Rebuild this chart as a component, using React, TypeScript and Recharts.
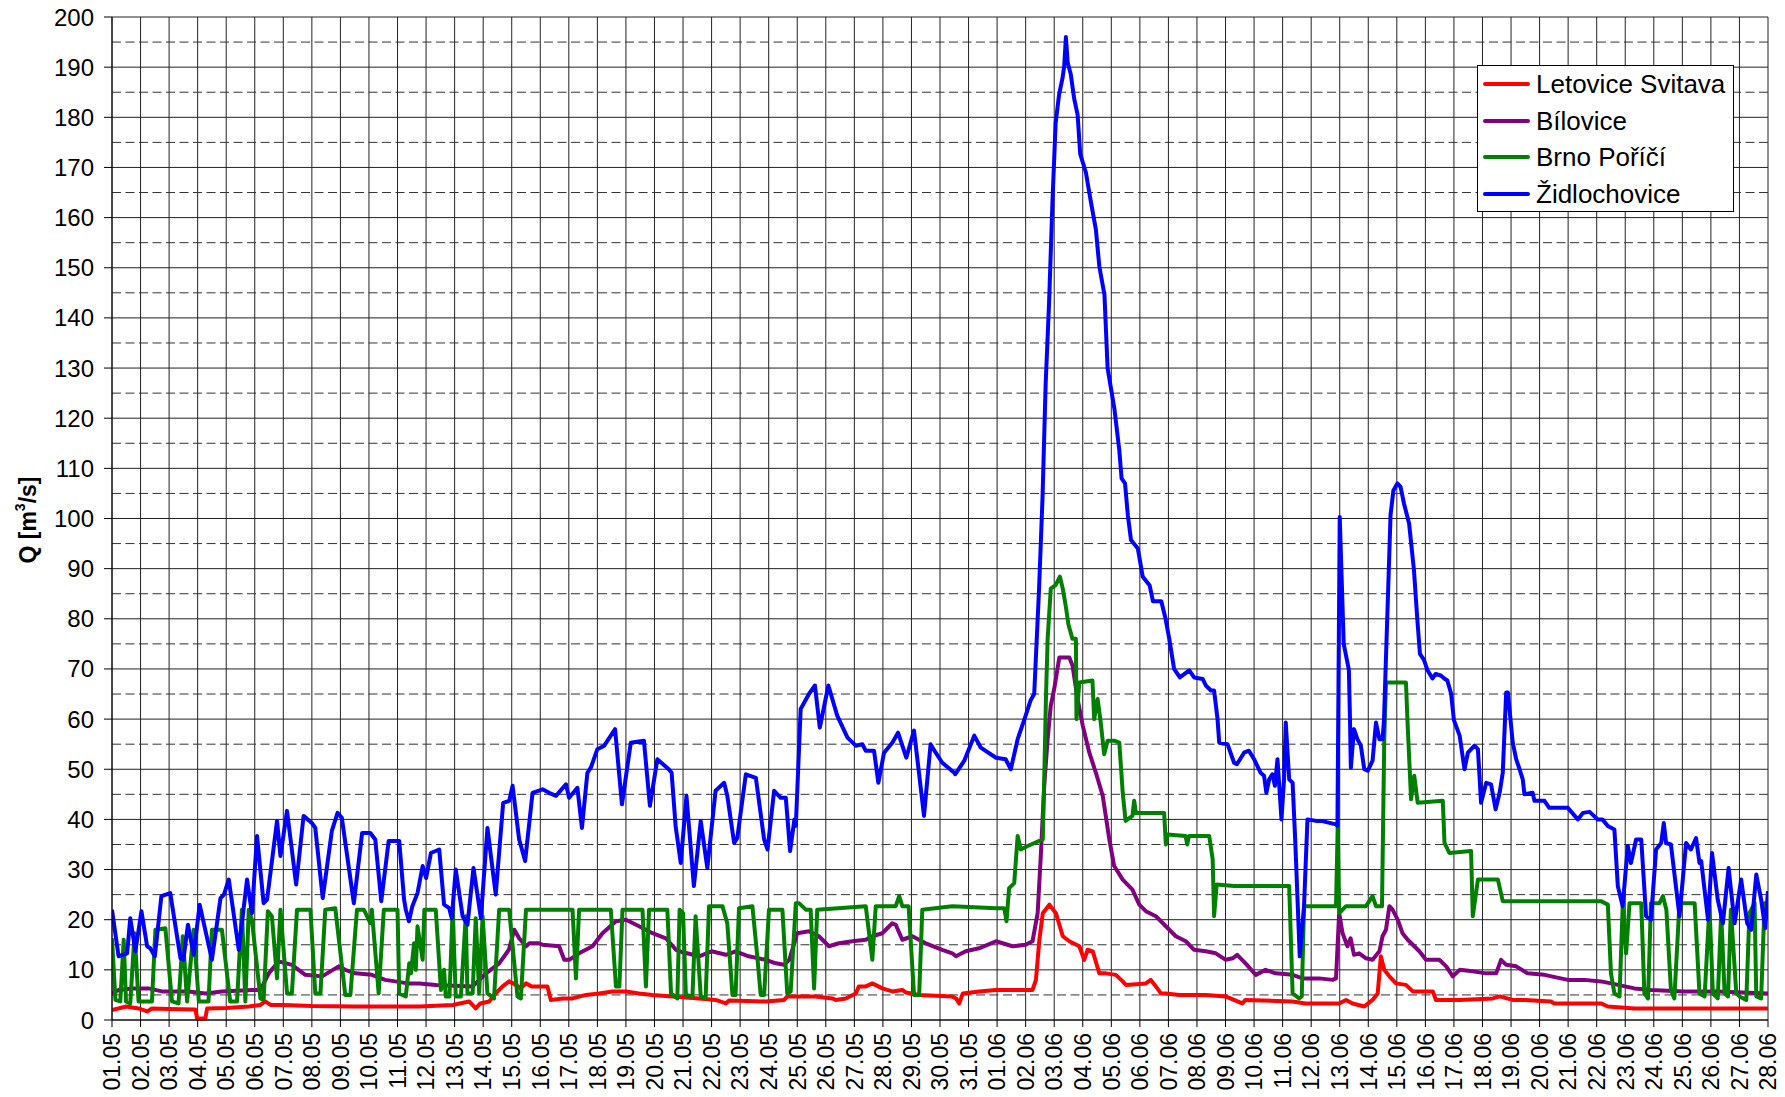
import React from "react";
import { LineChart, Line, XAxis, YAxis, CartesianGrid, Legend } from "recharts";

// Day labels (x = day index since 01.05)
const DATES = [
  "01.05","02.05","03.05","04.05","05.05","06.05","07.05","08.05","09.05","10.05",
  "11.05","12.05","13.05","14.05","15.05","16.05","17.05","18.05","19.05","20.05",
  "21.05","22.05","23.05","24.05","25.05","26.05","27.05","28.05","29.05","30.05","31.05",
  "01.06","02.06","03.06","04.06","05.06","06.06","07.06","08.06","09.06","10.06",
  "11.06","12.06","13.06","14.06","15.06","16.06","17.06","18.06","19.06","20.06",
  "21.06","22.06","23.06","24.06","25.06","26.06","27.06","28.06"
];
const DAY_TICKS = [0,1,2,3,4,5,6,7,8,9,10,11,12,13,14,15,16,17,18,19,20,21,22,23,24,25,26,27,28,29,30,31,32,33,34,35,36,37,38,39,40,41,42,43,44,45,46,47,48,49,50,51,52,53,54,55,56,57,58];
const Y_TICKS = [0,10,20,30,40,50,60,70,80,90,100,110,120,130,140,150,160,170,180,190,200];
const Y_MINOR = [5,15,25,35,45,55,65,75,85,95,105,115,125,135,145,155,165,175,185,195];

// [day, Q]
const letovice: number[][] = [
  [0,2],[0.5,2.7],[0.93,2.3],[1.23,1.7],[1.4,2.3],[2.0,2.2],[2.92,2.1],[2.98,0.3],[3.27,0.3],[3.33,2.3],[4.0,2.4],[4.79,2.7],[5.2,3],[5.37,3.7],[5.55,3],[6.0,3],[7.0,2.8],[8.5,2.7],[9.92,2.7],[10.76,2.7],[11.93,3],[12.51,3.7],[12.74,2.3],[12.9,3.3],[13.21,3.7],[13.44,5.3],[13.68,6.7],[13.91,7.7],[14.15,7],[14.3,6.3],[14.5,7.3],[14.7,6.7],[15.25,6.7],[15.37,4],[15.78,4.3],[16.13,4.3],[16.6,5],[17.06,5.3],[17.53,5.7],[18.0,5.7],[18.46,5.3],[18.93,5],[19.63,4.7],[20.56,4.3],[21.14,4],[21.5,3.3],[21.61,3.9],[22.9,3.7],[23.54,4],[23.65,4.7],[24.65,4.7],[25.23,4.3],[25.35,4],[25.7,4.3],[26.05,5.3],[26.16,6.7],[26.4,6.7],[26.63,7.3],[26.98,6.3],[27.33,5.7],[27.68,6],[27.8,5.5],[28.27,5],[29.43,4.7],[29.56,4.3],[29.67,3.3],[29.8,5.3],[30.37,5.7],[30.96,6],[31.54,6],[32.24,6],[32.36,8],[32.48,16],[32.6,21.3],[32.83,23],[33.06,21.3],[33.3,16.7],[33.53,15.7],[33.88,14.7],[34.05,12],[34.17,14],[34.35,13.7],[34.58,9.3],[34.81,9.3],[35.16,9],[35.4,7.7],[35.51,7],[36.21,7.3],[36.38,8],[36.56,6.7],[36.74,5.3],[36.91,5.3],[37.38,5],[38.31,5],[39.0,4.7],[39.59,3.3],[39.7,4],[41.35,3.7],[41.81,3.3],[42.98,3.3],[43.22,4],[43.45,3.3],[43.86,2.7],[44.15,4],[44.33,5.3],[44.44,12.7],[44.56,10],[44.74,8.7],[44.97,7.3],[45.32,7],[45.56,5.7],[46.26,5.7],[46.37,4],[47.2,4],[48.36,4.3],[48.6,4.7],[49.06,4],[49.5,4],[50.4,3.7],[50.5,3.3],[52.15,3.3],[52.39,2.7],[53.32,2.3],[58,2.3]
];

const bilovice: number[][] = [
  [0,5.3],[0.23,6],[0.7,6.3],[1.28,6.3],[1.75,5.7],[2.69,5.7],[3.27,5.3],[3.85,5.7],[4.9,6],[5.2,6],[5.49,9.3],[5.84,11.7],[6.3,11],[6.77,9],[7.36,8.7],[7.94,10.7],[8.17,10],[8.52,9.3],[9.1,9],[9.57,8],[9.92,7.7],[10.35,7.3],[10.76,7.3],[11.34,7],[12.63,6.7],[13.1,9.3],[13.56,11.3],[13.9,14],[14.09,18],[14.26,16.3],[14.5,14.7],[14.62,15.3],[14.96,15.3],[15.08,15],[15.66,14.7],[15.84,12],[16.01,12],[16.36,13.3],[16.83,14.7],[17.18,17.3],[17.65,19.7],[18.0,20],[18.46,18.7],[18.93,17.3],[19.4,16.3],[19.75,14],[20.0,13.5],[20.56,12.7],[21.0,13.7],[21.5,13],[21.84,13.7],[22.3,12.7],[22.9,12],[23.25,11.3],[23.54,11],[23.72,12],[24.0,17.3],[24.41,17.7],[24.76,16.7],[25.11,14.7],[25.46,15.3],[25.93,15.7],[26.4,16],[26.63,16.7],[26.98,17.3],[27.33,19.3],[27.45,19],[27.68,16],[28.03,16.7],[28.5,15.3],[29.08,14],[29.43,13.3],[29.56,12.7],[29.9,13.7],[30.37,14.3],[30.96,15.7],[31.54,14.7],[32.0,15],[32.24,15.7],[32.42,21.3],[32.53,32.7],[32.65,46.7],[32.77,56],[32.88,62.7],[33.0,66],[33.18,72.3],[33.53,72.3],[33.64,70.7],[33.82,64],[34.0,58.7],[34.23,53.3],[34.46,49.3],[34.7,44.7],[34.93,36],[35.1,30.7],[35.4,28],[35.74,26],[35.98,23],[36.21,21.7],[36.56,20.7],[36.91,18.7],[37.26,16.7],[37.61,15.7],[37.9,14],[38.31,13.7],[38.66,13.3],[39.01,12],[39.25,12.3],[39.41,13],[39.7,11.3],[40.06,9],[40.4,10],[40.75,9.3],[41.35,9],[41.7,8.3],[42.28,8.3],[42.75,8],[42.87,8.3],[42.98,21.3],[43.1,17.3],[43.27,14.7],[43.38,16.3],[43.5,13],[43.68,13.3],[43.92,12.3],[44.15,12],[44.39,13.7],[44.5,16.7],[44.62,18],[44.74,22.7],[44.85,22],[45.03,20],[45.2,17.3],[45.38,16],[45.61,14.7],[45.79,13.7],[46.02,12],[46.49,12],[46.73,10.7],[46.96,8.7],[47.2,10],[47.66,9.7],[48.13,9.3],[48.48,9.3],[48.65,12],[48.83,11],[49.18,10.7],[49.58,9.3],[50.17,9],[50.99,8],[51.57,8],[52.15,7.7],[52.5,7.3],[53.32,6.3],[53.9,6],[55.07,5.7],[56.24,5.7],[58,5.3]
];

const brnoPorici: number[][] = [
  [0,16.3],[0.12,4],[0.29,3.7],[0.41,16],[0.49,3.7],[0.64,3.3],[0.79,17.3],[0.93,3.7],[1.4,3.7],[1.52,18],[1.87,18.3],[2.1,3.7],[2.33,3.3],[2.48,16.7],[2.63,3.7],[2.86,18],[3.04,3.7],[3.38,3.7],[3.5,18],[3.85,18],[4.14,3.7],[4.38,3.7],[4.55,22],[4.67,3.7],[4.79,22],[4.9,20],[5.2,4.3],[5.31,4],[5.46,21.7],[5.6,20.7],[5.78,8.3],[5.9,22],[6.13,5.3],[6.3,5.3],[6.48,22],[6.95,22],[7.12,5.3],[7.3,5.3],[7.47,22],[7.82,22.3],[8.17,5],[8.35,5],[8.58,22],[8.82,22],[9.05,19.3],[9.1,22],[9.34,5.3],[9.52,22],[10.0,22],
  [10.06,5.3],[10.29,4.7],[10.41,11.3],[10.47,9.3],[10.58,15.3],[10.64,10],[10.7,18.7],[10.88,12],[10.94,22],[11.34,22],[11.52,6],[11.63,10],[11.69,4.7],[11.82,4.7],[11.93,22],[12.04,4.7],[12.22,4.7],[12.39,20.7],[12.45,5.3],[12.63,5.3],[12.74,20.3],[12.86,5.3],[12.98,20.7],[13.15,5.3],[13.38,4.3],[13.56,22],[13.91,22],[14.2,4.7],[14.32,4.3],[14.5,22],[16.13,22],[16.25,8.3],[16.36,22],[17.47,22],[17.65,6.7],[17.77,6.7],[17.88,22],[18.58,22],[18.7,6.7],[18.81,22],[19.45,22],
  [19.58,5.3],[19.8,4.3],[19.88,22],[20.0,21.3],[20.1,5],[20.33,4.7],[20.44,20.7],[20.62,4.7],[20.79,4.3],[20.91,22.7],[21.38,22.7],[21.55,19.3],[21.73,5],[21.84,5],[21.96,22.3],[22.43,22.7],[22.6,12.7],[22.72,5],[22.84,5],[23.01,22],[23.48,22],[23.65,5.3],[23.77,5.7],[23.95,23.3],[24.06,23.3],[24.3,22],[24.47,22],[24.59,6.3],[24.7,22],[26.4,22.7],[26.63,12],[26.75,22.7],[27.45,22.7],[27.57,24.7],[27.68,22.7],[27.9,22.7],[28.09,5],[28.27,5],[28.38,22],[29.43,22.7],
  [30.96,22.3],[31.25,22.3],[31.33,19.7],[31.42,26.3],[31.6,27.3],[31.72,36.7],[31.83,34],[32.07,34.7],[32.6,36],[32.65,48],[32.71,64],[32.77,76],[32.88,86],[33.05,86.7],[33.2,88.4],[33.3,86],[33.4,82.7],[33.5,78.8],[33.64,76],[33.76,76],[33.78,60],[33.88,67.3],[34.34,67.7],[34.4,60],[34.52,64],[34.63,59.3],[34.75,53],[34.87,55.7],[35.1,55.7],[35.28,55.3],[35.4,45.3],[35.5,39.7],[35.74,40.7],[35.8,43.7],[35.86,41.3],[36.85,41.3],[36.91,35],[36.97,37],[37.6,36.7],[37.66,35],[37.72,36.7],[38.43,36.7],[38.55,32],[38.6,20.7],[38.69,27],[39.3,26.7],
  [41.23,26.7],[41.29,16],[41.35,5.3],[41.58,4.3],[41.67,4.7],[41.75,22.7],[42.87,22.7],[42.93,38.7],[42.98,21.3],[43.22,22.7],[43.92,22.7],[44.15,24.7],[44.27,22.7],[44.48,22.7],[44.56,56],[44.62,67.3],[45.32,67.3],[45.38,58.7],[45.5,44],[45.61,48.7],[45.73,43.3],[46.61,43.7],[46.67,35.3],[46.84,33.3],[47.6,33.7],[47.66,20.7],[47.84,28],[48.54,28],[48.71,23.7],[49.18,23.7],
  [52.15,23.7],[52.39,23],[52.5,9.3],[52.62,5.3],[52.8,4.7],[52.91,22.7],[53.03,13.3],[53.15,23.3],[53.56,23.3],[53.67,5.3],[53.8,4.3],[53.9,23.3],[54.2,23.3],[54.32,24.7],[54.44,22],[54.6,6],[54.72,4.3],[54.9,23.3],[55.43,23.3],[55.6,5.3],[55.78,4.7],[55.95,22.7],[56.07,5.3],[56.24,4.3],[56.36,21.3],[56.48,5.3],[56.6,4.7],[56.7,22],[56.89,5.3],[57.0,4.7],[57.24,4],[57.35,21.3],[57.53,23.3],[57.59,4.7],[57.76,4.3],[57.88,23.3],[58,23.3]
];

const zidlochovice: number[][] = [
  [0,22],[0.23,12.7],[0.53,13.3],[0.64,20.3],[0.82,13.7],[1.03,21.7],[1.23,14.7],[1.34,14.3],[1.5,12.7],[1.73,24.7],[2.04,25.3],[2.4,12.3],[2.5,12],[2.66,19],[2.86,13],[3.07,23],[3.5,12],[3.8,24.3],[3.92,25],[4.09,28],[4.44,14],[4.73,28],[4.9,21.3],[5.08,36.7],[5.31,23.3],[5.43,24],[5.78,39.7],[5.9,32.7],[6.13,41.7],[6.45,27],[6.71,40.7],[7.0,39.3],[7.12,38.3],[7.38,24.3],[7.7,37.7],[7.9,41.3],[8.05,40.3],[8.47,23.3],[8.76,37.3],[9.05,37.3],[9.22,36],[9.43,23.7],[9.69,35.7],[10.06,35.7],
  [10.23,24],[10.29,22],[10.4,19.7],[10.52,22.7],[10.7,25.3],[10.88,30.7],[11.0,28.3],[11.17,33.3],[11.46,34],[11.63,23],[11.81,22.3],[11.9,20.3],[12.04,30],[12.28,20.7],[12.45,19],[12.66,30.3],[12.92,20.3],[13.15,38.3],[13.33,30],[13.44,25],[13.7,43.3],[13.91,43.7],[14.03,46.7],[14.26,36],[14.47,31.7],[14.73,45.3],[15.08,46],[15.31,45.3],[15.55,44.7],[15.9,47],[16.01,44.3],[16.3,46.3],[16.46,38.3],[16.65,49.3],[16.77,50.3],[17.0,54],[17.24,54.7],[17.62,58],[17.86,43],[18.17,55.3],[18.63,55.7],[18.84,42.7],[19.1,52],[19.5,50],[19.6,49.3],
  [19.74,38.7],[19.92,31.3],[20.12,44.7],[20.38,26.7],[20.62,39.7],[20.85,30.3],[21.14,45.7],[21.44,47.3],[21.55,44.7],[21.79,35.3],[21.9,36.3],[22.2,49],[22.55,48.3],[22.84,36],[22.96,34],[23.19,45.7],[23.42,44.3],[23.6,44.3],[23.75,33.7],[23.9,40],[23.95,38.7],[24.12,62],[24.41,65],[24.62,66.7],[24.79,58.3],[25.09,66.7],[25.4,60.7],[25.76,56.3],[26.05,54.7],[26.28,55],[26.4,53.7],[26.69,53.7],[26.84,47.3],[27.04,53.3],[27.33,55.3],[27.53,57.3],[27.82,52.3],[28.09,57.7],[28.44,40.7],[28.67,55],[28.85,53.3],[29.08,51.3],[29.5,49.3],
  [29.53,49],[29.85,51.7],[30.2,56.7],[30.43,54.3],[30.96,52.3],[31.3,52],[31.48,50],[31.72,56],[32.0,60.7],[32.17,63.7],[32.3,65],[32.47,86],[32.59,104],[32.7,126.7],[32.82,143],[32.94,163.4],[33.05,178.8],[33.17,184.5],[33.29,187.8],[33.35,190.2],[33.41,196],[33.47,191],[33.58,188.6],[33.7,183.7],[33.82,180.5],[33.91,172.7],[34.11,169],[34.28,163.3],[34.46,157.6],[34.58,150.3],[34.76,144.6],[34.87,130],[35.11,121.8],[35.28,113.6],[35.36,108],[35.48,107],[35.58,100.6],[35.69,95.7],[35.93,94],[36.1,88.4],[36.34,86.7],[36.46,83.5],[36.75,83.5],[36.9,80],[37.03,76],[37.2,70],[37.4,68.3],[37.73,69.7],[37.9,68.3],[38.2,68],[38.31,66.7],[38.49,65.7],[38.6,65.7],[38.72,60],[38.78,55.3],[39.07,55],[39.3,51.3],
  [39.4,51],[39.65,53.3],[39.82,53.7],[40.0,52],[40.23,49.3],[40.35,48.7],[40.43,45.3],[40.53,48],[40.64,49],[40.73,46.7],[40.82,52],[40.96,40],[41.05,48],[41.11,59.3],[41.23,48],[41.35,47.3],[41.44,36],[41.6,12.7],[41.75,22.7],[41.87,40],[42.17,39.7],[42.35,39.7],[42.87,39],[42.92,38.7],[43.0,100.3],[43.14,75],[43.32,69.8],[43.36,59.8],[43.39,50.3],[43.5,58],[43.62,56],[43.74,54.7],[43.86,50],[43.98,49.7],[44.15,51.7],[44.27,59.3],[44.39,56],[44.5,56],[44.55,59.8],[44.78,100.7],[44.88,105.6],[45.02,107],[45.13,106.3],[45.25,103],[45.43,99],[45.6,89.7],[45.72,79.7],[45.81,73],[45.95,71.8],[46.07,69.8],[46.25,68.1],[46.36,69],[46.54,68.7],[46.66,68.1],[46.77,67.7],[46.9,65.1],[47.0,59.8],[47.2,56.7],[47.37,50],[47.49,53.3],[47.72,54.7],[47.84,54],[47.95,43.3],[48.13,47.3],[48.3,47],[48.46,42],[48.6,45.3],[48.71,49.3],[48.83,65.3],[48.89,65.3],[49.06,55.3],[49.18,52],
  [49.3,50],[49.41,48],[49.47,45],[49.76,45.3],[49.82,43.7],[50.17,43.7],[50.34,42.3],[50.99,42.3],[51.34,40],[51.52,41.3],[51.75,41.5],[52.04,40],[52.2,40],[52.39,38.7],[52.62,38],[52.74,26.7],[52.91,22.7],[53.09,34.7],[53.2,31.3],[53.38,36],[53.56,36],[53.73,20.7],[53.9,20],[54.08,34],[54.26,35.3],[54.35,39.3],[54.43,35.3],[54.6,35],[54.9,20.7],[55.13,35.3],[55.3,34],[55.48,36.3],[55.6,31.3],[55.66,31.7],[55.9,20],[56.04,33.3],[56.24,24],[56.42,19.3],[56.62,30.3],[56.83,19.3],[57.06,28],[57.27,19.3],[57.41,18],[57.59,29],[57.76,24],[57.9,18.3],[58,25.7]
];

const SERIES = [
  { name: "Letovice Svitava", color: "#ff0000", values: letovice },
  { name: "Bílovice", color: "#800080", values: bilovice },
  { name: "Brno Poříčí", color: "#008000", values: brnoPorici },
  { name: "Židlochovice", color: "#0000ff", values: zidlochovice },
];

const FONT = "'Liberation Sans', Arial, sans-serif";

const toRows = (arr: number[][]) => arr.map(([t, v]) => ({ t, v }));

const XTick = (props: any) => {
  const { x, y, payload } = props;
  return (
    <g transform={`translate(${x},${y})`}>
      <text x={0} y={0} dy="0.36em" textAnchor="end" transform="rotate(-90)" fontSize={23} fill="#000" fontFamily={FONT}>
        {DATES[payload.value]}
      </text>
    </g>
  );
};

const LegendBox = () => (
  <div style={{ border: "1px solid #000", background: "#fff", width: 257, height: 147, boxSizing: "border-box", fontFamily: FONT, paddingTop: 0 }}>
    {SERIES.map((s) => (
      <div key={s.name} style={{ display: "flex", alignItems: "center", height: 36.5 }}>
        <div style={{ width: 47, height: 4, background: s.color, marginLeft: 5, marginRight: 6, borderRadius: 2 }} />
        <span style={{ fontSize: 26, color: "#000", lineHeight: "30px" }}>{s.name}</span>
      </div>
    ))}
  </div>
);

export default function App() {
  return (
    <div style={{ position: "absolute", left: 0, top: 0, width: 1785, height: 1097, background: "#fff" }}>
      <LineChart width={1785} height={1097} margin={{ top: 17, right: 17, left: 0, bottom: 0 }}>
        <CartesianGrid stroke="#222" strokeWidth={1} />
        <CartesianGrid stroke="#333" strokeWidth={1} strokeDasharray="9 4.5" vertical={false} horizontalValues={Y_MINOR} />
        <XAxis
          type="number"
          dataKey="t"
          domain={[0, 58]}
          ticks={DAY_TICKS}
          interval={0}
          height={77}
          tickSize={7}
          tickMargin={6}
          tick={<XTick />}
          axisLine={{ stroke: "#000" }}
          tickLine={{ stroke: "#000" }}
          allowDataOverflow
        />
        <YAxis
          type="number"
          domain={[0, 200]}
          ticks={Y_TICKS}
          interval={0}
          width={112}
          tickSize={8}
          tickMargin={10}
          tick={{ fontSize: 24, fill: "#000", fontFamily: FONT }}
          axisLine={{ stroke: "#000" }}
          tickLine={{ stroke: "#000" }}
          label={{
            content: () => (
              <text x={28} y={520} transform="rotate(-90, 28, 520)" textAnchor="middle" dominantBaseline="central" fontSize={23} fontWeight="bold" fontFamily={FONT} fill="#000">
                Q [m<tspan baselineShift="super" fontSize={14}>3</tspan>/s]
              </text>
            ),
          }}
        />
        {SERIES.map((s) => (
          <Line
            key={s.name}
            data={toRows(s.values)}
            dataKey="v"
            name={s.name}
            type="linear"
            stroke={s.color}
            strokeWidth={4}
            strokeLinejoin="round"
            dot={false}
            activeDot={false}
            isAnimationActive={false}
          />
        ))}
        <Legend
          layout="vertical"
          verticalAlign="middle"
          align="center"
          content={() => <LegendBox />}
          wrapperStyle={{ position: "absolute", left: 1477, top: 65, width: 257, height: 147 }}
        />
      </LineChart>
    </div>
  );
}
